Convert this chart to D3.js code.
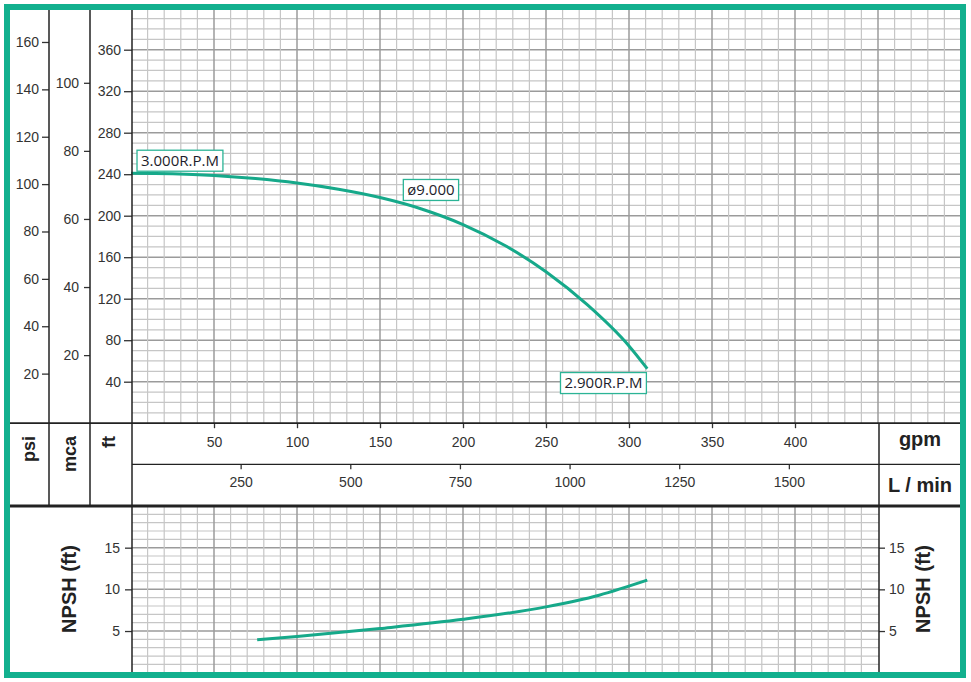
<!DOCTYPE html>
<html>
<head>
<meta charset="utf-8">
<script src="https://cdn.jsdelivr.net/npm/d3@7"></script>
<style>
    body { margin: 0; background: #fff; }
    svg { display: block; }
    .tick text { font-family: "Liberation Sans", Arial, sans-serif; font-size: 14px; fill: #333; }
    .tick line { stroke: #333; stroke-width: 1.3; }
    .unit { font-family: "Liberation Sans", Arial, sans-serif; font-weight: bold; fill: #222; }
    .note { font-family: "Open Sans", sans-serif; font-size: 15px; fill: #1d1d2b; }
</style>
</head>
<body>
<div id="chart"></div>
<script>
// head curve (3000 rpm, impeller ø9.000)
const flowGpm = [0, 25, 50, 75, 100, 125, 150, 175, 200, 225, 250, 275, 300, 311];
const headFt = [241, 240.5, 238.8, 235.8, 231.5, 225.5, 217.5, 206.5, 191.5, 171.5, 146, 114, 74.5, 52.5];

// NPSH required
const npshFlowGpm = [76, 100, 150, 200, 250, 282, 311];
const npshFt = [3.95, 4.35, 5.3, 6.4, 7.9, 9.3, 11.1];

// tick labels
const psiTicks = [20, 40, 60, 80, 100, 120, 140, 160];
const mcaTicks = [20, 40, 60, 80, 100];
const ftTicks = [40, 80, 120, 160, 200, 240, 280, 320, 360];
const gpmTicks = [50, 100, 150, 200, 250, 300, 350, 400];
const lpmTicks = [250, 500, 750, 1000, 1250, 1500];
const npshTicks = [5, 10, 15];

// curve annotations
const notes = [
    { text: "3.000R.P.M", q: 29.5, ft: 253 },
    { text: "ø9.000", q: 180.7, ft: 224.8 },
    { text: "2.900R.P.M", q: 284.6, ft: 38.7 }
];

const W = 971, H = 682;
const teal = "#12b08e";
const inner = { left: 10, right: 960, top: 10, bottom: 672 };
const plotLeft = 132, bandRight = 879;
const bandTop = 423.2, bandMid = 464.3, bandBottom = 506;

const svg = d3.select("#chart").append("svg")
    .attr("width", W)
    .attr("height", H);

svg.append("rect").attr("width", W).attr("height", H).attr("fill", "#fff");

// scales
const x = d3.scaleLinear().domain([0, 500]).range([131, 961]);
const xLpm = d3.scaleLinear().domain([0, 500 * 3.785]).range([131, 961]);
const yFt = d3.scaleLinear().domain([0, 400]).range([bandTop, bandTop - 415]);
const yMca = d3.scaleLinear().domain([0, 400 / 3.281]).range([bandTop, bandTop - 415]);
const yPsi = d3.scaleLinear().domain([0, 173.5]).range([421, 10]);
const yNpsh = d3.scaleLinear().domain([0, 20]).range([672.7, 506]);

// grids
function gridLines(g, values, isMajor, place) {
    g.selectAll("line")
        .data(values)
        .enter()
        .append("line")
        .each(function (d) { place(d3.select(this), d); })
        .attr("stroke", d => isMajor(d) ? "#9b9b9b" : "#c6c6c6")
        .attr("stroke-width", d => isMajor(d) ? 1.5 : 1.2);
}

const topGrid = svg.append("g").attr("class", "grid-top");
gridLines(topGrid.append("g"), d3.range(10, 400, 10).filter(d => yFt(d) >= inner.top), d => d % 40 === 0,
    (s, d) => s.attr("x1", plotLeft).attr("x2", inner.right).attr("y1", yFt(d)).attr("y2", yFt(d)));
gridLines(topGrid.append("g"), d3.range(10, 500, 10).filter(d => x(d) < inner.right), d => d % 50 === 0,
    (s, d) => s.attr("x1", x(d)).attr("x2", x(d)).attr("y1", inner.top).attr("y2", bandTop));

const botGrid = svg.append("g").attr("class", "grid-bottom");
gridLines(botGrid.append("g"), d3.range(1, 20, 1), d => d % 5 === 0,
    (s, d) => s.attr("x1", plotLeft).attr("x2", bandRight).attr("y1", yNpsh(d)).attr("y2", yNpsh(d)));
gridLines(botGrid.append("g"), d3.range(10, 450, 10), d => d % 50 === 0,
    (s, d) => s.attr("x1", x(d)).attr("x2", x(d)).attr("y1", bandBottom).attr("y2", inner.bottom));

// curves
const headLine = d3.line()
    .x((d, i) => x(flowGpm[i]))
    .y(d => yFt(d))
    .curve(d3.curveMonotoneX);

svg.append("path")
    .datum(headFt)
    .attr("d", headLine)
    .attr("fill", "none")
    .attr("stroke", "#16a98a")
    .attr("stroke-width", 3);

const npshLine = d3.line()
    .x((d, i) => x(npshFlowGpm[i]))
    .y(d => yNpsh(d))
    .curve(d3.curveMonotoneX);

svg.append("path")
    .datum(npshFt)
    .attr("d", npshLine)
    .attr("fill", "none")
    .attr("stroke", "#16a98a")
    .attr("stroke-width", 3);

// annotation boxes
notes.forEach(n => {
    const g = svg.append("g")
        .attr("transform", `translate(${x(n.q)}, ${yFt(n.ft)})`);
    const t = g.append("text")
        .attr("class", "note")
        .attr("text-anchor", "middle")
        .attr("dy", "0.36em")
        .text(n.text);
    const bb = t.node().getBBox();
    g.insert("rect", "text")
        .attr("x", bb.x - 4)
        .attr("y", -10.5)
        .attr("width", bb.width + 8)
        .attr("height", 21)
        .attr("fill", "#fff")
        .attr("stroke", "#2bb496")
        .attr("stroke-width", 1.3);
});

// left axes
function leftAxis(scale, ticks, xPos, size, pad) {
    const g = svg.append("g")
        .attr("transform", `translate(${xPos},0)`)
        .call(d3.axisLeft(scale).tickValues(ticks).tickSize(size).tickPadding(pad).tickSizeOuter(0));
    g.select(".domain").remove();
    return g;
}
leftAxis(yPsi, psiTicks, 49, 7, 3);
leftAxis(yMca, mcaTicks, 90, 6, 5);
leftAxis(yFt, ftTicks, plotLeft, 8, 3);
leftAxis(yNpsh, npshTicks, plotLeft, 7, 5);

const rightNpsh = svg.append("g")
    .attr("transform", `translate(${bandRight},0)`)
    .call(d3.axisRight(yNpsh).tickValues(npshTicks).tickSize(6).tickPadding(4).tickSizeOuter(0));
rightNpsh.select(".domain").remove();

// flow axes in the band
const gpmAxis = svg.append("g")
    .attr("transform", `translate(0,${bandTop})`)
    .call(d3.axisBottom(x).tickValues(gpmTicks).tickFormat(d3.format("d")).tickSize(5).tickPadding(9).tickSizeOuter(0));
gpmAxis.select(".domain").remove();

const lpmAxis = svg.append("g")
    .attr("transform", `translate(0,${bandMid})`)
    .call(d3.axisBottom(xLpm).tickValues(lpmTicks).tickFormat(d3.format("d")).tickSize(5).tickPadding(8).tickSizeOuter(0));
lpmAxis.select(".domain").remove();

// frame lines
const rules = [
    [49, inner.top, 49, bandBottom, 1.5],
    [90, inner.top, 90, bandBottom, 1.5],
    [plotLeft, inner.top, plotLeft, inner.bottom, 1.5],
    [bandRight, bandTop, bandRight, inner.bottom, 1.5],
    [inner.left, bandTop, inner.right, bandTop, 1.7],
    [plotLeft, bandMid, inner.right, bandMid, 1.3],
    [inner.left, bandBottom, inner.right, bandBottom, 3]
];
svg.append("g").selectAll("line")
    .data(rules)
    .enter()
    .append("line")
    .attr("x1", d => d[0]).attr("y1", d => d[1])
    .attr("x2", d => d[2]).attr("y2", d => d[3])
    .attr("stroke", "#222")
    .attr("stroke-width", d => d[4]);

// unit labels
function vLabel(text, cx, y, size, anchor) {
    svg.append("text")
        .attr("class", "unit")
        .attr("transform", `translate(${cx},${y}) rotate(-90)`)
        .attr("text-anchor", anchor)
        .attr("dy", "0.35em")
        .style("font-size", size + "px")
        .text(text);
}
vLabel("psi", 29, 436, 18, "end");
vLabel("mca", 70, 436, 18, "end");
vLabel("ft", 109, 436, 18, "end");
vLabel("NPSH (ft)", 69, 589, 20, "middle");
vLabel("NPSH (ft)", 923, 589, 20, "middle");

svg.append("text").attr("class", "unit")
    .attr("x", 920).attr("y", 446)
    .attr("text-anchor", "middle")
    .style("font-size", "20px")
    .text("gpm");
svg.append("text").attr("class", "unit")
    .attr("x", 920).attr("y", 492)
    .attr("text-anchor", "middle")
    .style("font-size", "20px")
    .text("L / min");

// teal border
svg.append("rect")
    .attr("x", 7).attr("y", 7)
    .attr("width", 956).attr("height", 668)
    .attr("fill", "none")
    .attr("stroke", teal)
    .attr("stroke-width", 6);
</script>
</body>
</html>
